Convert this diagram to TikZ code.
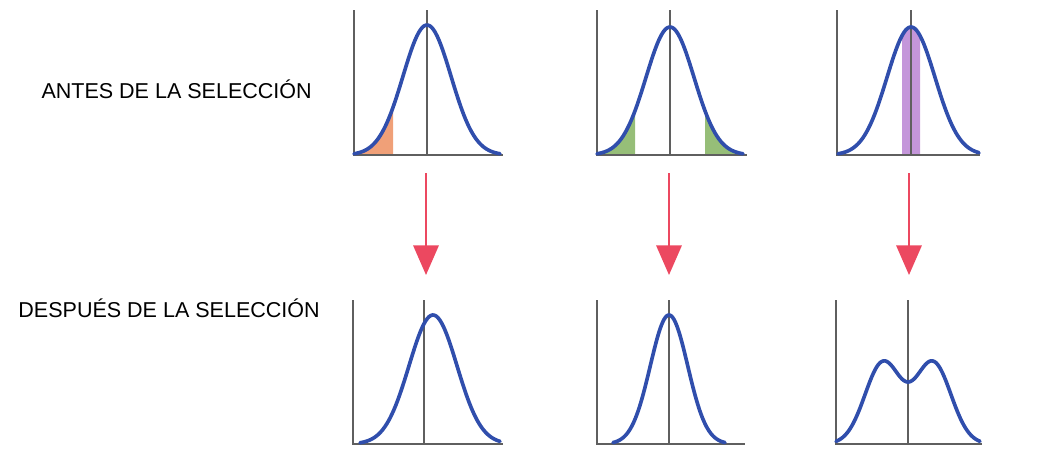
\documentclass[tikz,border=0pt]{standalone}
\usepackage{fontspec}
\setmainfont{Liberation Sans}
\usepackage{tikz}
\usetikzlibrary{arrows.meta}
\usetikzlibrary{positioning}

\definecolor{curveblue}{RGB}{48,78,172}
\definecolor{axisgray}{RGB}{95,95,95}
\definecolor{arrowred}{RGB}{236,72,96}
\definecolor{orangefill}{RGB}{240,160,120}
\definecolor{greenfill}{RGB}{150,190,120}
\definecolor{purplefill}{RGB}{196,150,218}

\begin{document}
\begin{tikzpicture}[
        x=0.025cm, y=-0.025cm,
        >=stealth,
        axis/.style={draw=axisgray, line width=1pt},
        curve/.style={draw=curveblue, line width=2.6pt, line cap=round, line join=round},
        selarrow/.style={draw=arrowred, line width=1.4pt, -{Triangle[width=18pt, length=21pt]}},
        stage/.style={anchor=base east, inner sep=0pt, font=\fontsize{15.3}{18}\selectfont}
    ]

    \useasboundingbox (0,0) rectangle (1056,450);

    % --- 1. ROTULOS ---
    \node[stage] (antes) at (312,98) {ANTES DE LA SELECCIÓN};
    \node[stage] (despues) at (320,317) {DESPUÉS DE LA SELECCIÓN};

    % --- 2. ANTES: zonas seleccionadas ---
    \fill[orangefill] plot[domain=-73:-34, samples=30] ({427+\x}, {155-130*exp(-((\x)^2)/1152)}) -- (393,155) -- (354,155) -- cycle;
    \fill[greenfill] plot[domain=-73:-35, samples=30] ({670+\x}, {155-128*exp(-((\x)^2)/1152)}) -- (635,155) -- (597,155) -- cycle;
    \fill[greenfill] plot[domain=35:73, samples=30] ({670+\x}, {155-128*exp(-((\x)^2)/1152)}) -- (743,155) -- (705,155) -- cycle;
    \fill[purplefill] plot[domain=-9:9, samples=20] ({911+\x}, {155-128*exp(-((\x)^2)/1152)}) -- (920,155) -- (902,155) -- cycle;

    % --- 3. ANTES: ejes ---
    \draw[axis] (354,10) -- (354,155) -- (503,155);
    \draw[axis] (427,10) -- (427,155);
    \draw[axis] (597,10) -- (597,155) -- (747,155);
    \draw[axis] (670,10) -- (670,155);
    \draw[axis] (837,10) -- (837,155) -- (980,155);
    \draw[axis] (911,10) -- (911,155);

    % --- 4. ANTES: curvas ---
    \draw[curve] plot[domain=-73:73, samples=80, smooth] ({427+\x}, {155-130*exp(-((\x)^2)/1152)});
    \draw[curve] plot[domain=-73:73, samples=80, smooth] ({670+\x}, {155-128*exp(-((\x)^2)/1152)});
    \draw[curve] plot[domain=-73:68, samples=80, smooth] ({911+\x}, {155-128*exp(-((\x)^2)/1152)});

    % --- 5. FLECHAS ---
    \coordinate (top1) at (426,173);
    \coordinate (bot1) at (426,275);
    \coordinate (top2) at (669,173);
    \coordinate (bot2) at (669,275);
    \coordinate (top3) at (909,173);
    \coordinate (bot3) at (909,275);

    \draw[selarrow] (top1) -- (bot1);
    \draw[selarrow] (top2) -- (bot2);
    \draw[selarrow] (top3) -- (bot3);

    % --- 6. DESPUES: ejes ---
    \draw[axis] (353,300) -- (353,444) -- (503,444);
    \draw[axis] (424,300) -- (424,444);
    \draw[axis] (597,300) -- (597,444) -- (745,444);
    \draw[axis] (669,300) -- (669,444);
    \draw[axis] (836,300) -- (836,444) -- (982,444);
    \draw[axis] (908,300) -- (908,444);

    % --- 7. DESPUES: curvas ---
    \draw[curve] plot[domain=-73:67, samples=80, smooth] ({433+\x}, {444-129*exp(-((\x)^2)/1152)});
    \draw[curve] plot[domain=-56:56, samples=80, smooth] ({669+\x}, {444-129*exp(-((\x)^2)/700)});
    \draw[curve] plot[domain=-72:72, samples=90, smooth] ({908+\x}, {444-81.3*(exp(-((\x-25)^2)/648)+exp(-((\x+25)^2)/648))});

\end{tikzpicture}
\end{document}
